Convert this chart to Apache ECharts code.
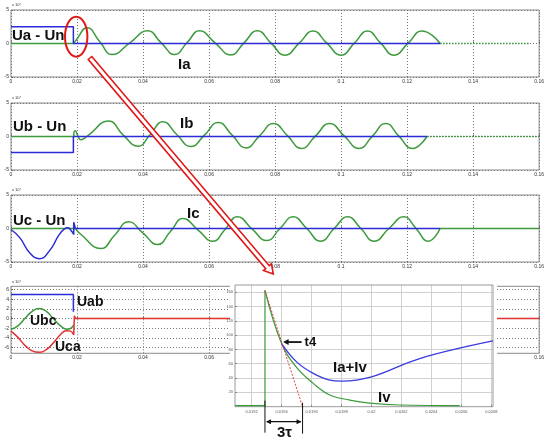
<!DOCTYPE html>
<html><head><meta charset="utf-8">
<script src="https://cdn.jsdelivr.net/npm/echarts@6/dist/echarts.min.js"></script>
<style>html,body{margin:0;padding:0;background:#fff}#c{width:547px;height:441px}</style>
</head><body><div id="c"></div>
<script>
// ---- tick labels ----
const timeTicks = [0, 0.02, 0.04, 0.06, 0.08, 0.1, 0.12, 0.14, 0.16];
const phaseTicks = [-5, 0, 5];
const lineTicks = [-6, -4, -2, 0, 2, 4, 6];
const zoomTimeTicks = [0.0192, 0.0194, 0.0196, 0.0198, 0.02, 0.0202, 0.0204, 0.0206, 0.0208];
const zoomCurrentTicks = [20, 40, 60, 80, 100, 120, 140, 160];

// ---- panel 1 : Ua - Un / Ia (x 10^4) ----
const uaUn = [[0, 2.5], [0.0189, 2.5], [0.0189, 0], [0.130, 0]];
const iaFlat = [[0, 0], [0.0190, 0]];
const iaWave = [[0.0190, 0], [0.0197, 0.5], [0.0231, 2.35], [0.0268, 0.35], [0.0306, -1.65], [0.0360, 0.1],
  [0.0414, 1.9], [0.0455, 0.1], [0.0496, -1.65], [0.0533, 0.1], [0.0571, 1.9], [0.0618, 0.1], [0.0666, -1.7],
  [0.0706, 0.1], [0.0746, 1.9], [0.0788, 0.05], [0.0830, -1.75], [0.0873, 0.05], [0.0915, 1.85], [0.0957, 0.05],
  [0.1000, -1.75], [0.1040, 0.05], [0.1080, 1.85], [0.1120, 0.05], [0.1160, -1.75], [0.1203, 0.05],
  [0.1245, 1.85], [0.1275, 1.25], [0.1300, 0]];
const iaTail = [[0.130, 0], [0.157, 0]];

// ---- panel 2 : Ub - Un / Ib ----
const ubUn = [[0, -2.4], [0.0189, -2.4], [0.0189, 0], [0.126, 0]];
const ibFlat = [[0, 0], [0.0190, 0]];
const ibWave = [[0.0190, 0], [0.0194, 0.85], [0.0212, -0.5], [0.0232, 0.1], [0.0296, 2.3], [0.0340, 0.2],
  [0.0385, -1.45], [0.0422, 0.3], [0.0460, 2.2], [0.0502, 0.3], [0.0545, -1.5], [0.0586, 0.2], [0.0628, 2.1],
  [0.0670, 0.2], [0.0712, -1.7], [0.0753, 0.1], [0.0795, 1.95], [0.0838, 0.1], [0.0880, -1.8], [0.0922, 0.05],
  [0.0965, 1.95], [0.1010, 0.05], [0.1054, -1.8], [0.1095, 0.05], [0.1135, 1.95], [0.1175, 0.05],
  [0.1216, -1.8], [0.1260, 0]];
const ibTail = [[0.126, 0], [0.16, 0]];

// ---- panel 3 : Uc - Un / Ic ----
const ucWave = [[0, -0.15], [0.0027, -1.4], [0.0057, -3.65], [0.0086, -4.5], [0.0117, -3.3], [0.0145, -1.0],
  [0.0162, -0.05], [0.0172, 0.1], [0.0185, -0.5], [0.0190, -0.9]];
const ucStep = [[0.0190, -0.9], [0.0190, 0.95], [0.0195, 0], [0.130, 0]];
const icFlat = [[0, 0], [0.0195, 0]];
const icWave = [[0.0195, 0], [0.0212, -0.9], [0.0272, -3.0], [0.0314, -1.0], [0.0356, 1.0], [0.0400, -0.7],
  [0.0444, -2.4], [0.0483, -0.45], [0.0521, 1.5], [0.0566, -0.2], [0.0612, -1.9], [0.0649, -0.1], [0.0686, 1.75],
  [0.0730, -0.05], [0.0775, -1.8], [0.0815, 0], [0.0855, 1.75], [0.0896, 0], [0.0938, -1.9], [0.0979, 0],
  [0.1020, 1.75], [0.1060, 0], [0.1100, -1.9], [0.1145, 0], [0.1190, 1.75], [0.1227, 0], [0.1264, -1.9],
  [0.1300, 0]];
const icTail = [[0.130, 0], [0.16, 0]];

// ---- panel 4 : line voltages ----
const uab = [[0, 5.0], [0.0189, 5.0], [0.0189, 1.4]];
const ubc = [[0, -2.2], [0.0021, -1.5], [0.0042, 0], [0.0064, 1.5], [0.0085, 2.1], [0.0107, 1.5], [0.0128, 0],
  [0.0150, -1.5], [0.0170, -2.2], [0.0183, -1.9], [0.0190, -1.3]];
const ucaWave = [[0, -2.6], [0.0021, -3.9], [0.0043, -5.6], [0.0064, -6.7], [0.0086, -7.0], [0.0108, -6.4],
  [0.0130, -4.9], [0.0150, -3.3], [0.0168, -2.5], [0.0180, -2.6], [0.0190, -3.4]];
const ucaTail = [[0.0190, -3.4], [0.0192, 0.6], [0.0195, 0], [0.16, 0]];

// ---- inset : Ia+Iv and Iv ----
const ivBase = [[0.019089, 1.4], [0.019289, 1.4], [0.019289, 162.3]];
const ivDecay = [[0.019289, 162.3], [0.0194, 88.2], [0.0195, 54.8], [0.019611, 32.6], [0.019722, 16.3],
  [0.019855, 9.3], [0.019989, 5.1], [0.020189, 2.4], [0.020589, 1.4]];
const iaIv = [[0.0194, 88.2], [0.0195, 62.6], [0.019611, 46.5], [0.019722, 37.1], [0.0198, 35.8],
  [0.0200, 41.7], [0.020322, 67.3], [0.020811, 91.8]];
const tangent = [[0.019289, 162.3], [0.01954, 0]];
const t4Point = [0.0194, 88.2];

const BLUE = '#2a2ad8', GREEN = '#3c9a3c', RED = '#e23030';
const FONT = 'Liberation Sans';
const fmtT = v => v === 0 ? '0' : String(Math.round(v * 100) / 100);

function mainX(gi) {
  return {
    type: 'value', gridIndex: gi, min: 0, max: 0.16, interval: 0.02,
    axisLine: { show: false },
    axisTick: { show: true, inside: true, length: 2, lineStyle: { color: '#666' } },
    splitLine: { show: true, lineStyle: { color: '#777', type: [1, 2], width: 1 } },
    axisLabel: { fontSize: 5, color: '#333', margin: 2, fontFamily: FONT, formatter: fmtT,
      customValues: timeTicks }
  };
}
function mainY(gi, min, max, ticks) {
  return {
    type: 'value', gridIndex: gi, min: min, max: max,
    axisLine: { show: false },
    axisTick: { show: true, inside: true, length: 2, customValues: ticks, lineStyle: { color: '#666' } },
    splitLine: { show: true, lineStyle: { color: '#777', type: [1, 2], width: 1 } },
    axisLabel: { fontSize: 5, color: '#333', margin: 2, fontFamily: FONT, customValues: ticks }
  };
}
function line(data, i, color, extra) {
  return Object.assign({
    type: 'line', xAxisIndex: i, yAxisIndex: i, data: data, symbol: 'none', showSymbol: false,
    lineStyle: { color: color, width: 1.5 }, itemStyle: { color: color }, animation: false, silent: true
  }, extra || {});
}

const gridBase = { left: 11, right: 2, show: true, borderColor: '#8a8a8a', borderWidth: 1, backgroundColor: '#fff' };
const option = {
  animation: false,
  backgroundColor: '#fff',
  grid: [
    Object.assign({}, gridBase, { top: 10, height: 67 }),
    Object.assign({}, gridBase, { top: 103, height: 67 }),
    Object.assign({}, gridBase, { top: 195, height: 67 }),
    Object.assign({}, gridBase, { top: 286.3, height: 67 }),
    { left: 235, right: 54, top: 285, height: 121.7, show: false, z: 50 }
  ],
  xAxis: [mainX(0), mainX(1), mainX(2), mainX(3), {
    type: 'value', gridIndex: 4, min: 0.019089, max: 0.020811, z: 51,
    axisLine: { show: false },
    axisTick: { show: true, inside: true, length: 2, customValues: zoomTimeTicks, lineStyle: { color: '#888' } },
    splitLine: { show: true, lineStyle: { color: '#d0d0d0', width: 1 } },
    axisLabel: { fontSize: 4, color: '#555', margin: 3, fontFamily: FONT, customValues: zoomTimeTicks,
      formatter: v => String(Math.round(v * 1e4) / 1e4) }
  }],
  yAxis: [mainY(0, -5, 5, phaseTicks), mainY(1, -5, 5, phaseTicks), mainY(2, -5, 5, phaseTicks),
    mainY(3, -7.2, 6.7, lineTicks), {
      type: 'value', gridIndex: 4, min: 0, max: 170, z: 51,
      axisLine: { show: false },
      axisTick: { show: true, inside: true, length: 2, customValues: zoomCurrentTicks, lineStyle: { color: '#888' } },
      splitLine: { show: true, lineStyle: { color: '#d0d0d0', width: 1 } },
      axisLabel: { fontSize: 4, color: '#555', margin: 2, fontFamily: FONT, customValues: zoomCurrentTicks }
    }],
  series: [
    line(iaFlat, 0, GREEN), line(iaWave, 0, GREEN, { smooth: 0.5 }),
    line(iaTail, 0, GREEN, { lineStyle: { color: GREEN, width: 1.3, type: [1.5, 1.5] } }),
    line(uaUn, 0, BLUE),
    line(ibFlat, 1, GREEN), line(ibWave, 1, GREEN, { smooth: 0.5 }),
    line(ibTail, 1, GREEN, { lineStyle: { color: GREEN, width: 1.3, type: [1.5, 1.5] } }),
    line(ubUn, 1, BLUE),
    line(icFlat, 2, GREEN), line(icWave, 2, GREEN, { smooth: 0.5 }), line(icTail, 2, GREEN),
    line(ucWave, 2, BLUE, { smooth: 0.5 }), line(ucStep, 2, BLUE),
    line(uab, 3, BLUE), line(ubc, 3, GREEN, { smooth: 0.5 }),
    line(ucaWave, 3, RED, { smooth: 0.5 }), line(ucaTail, 3, RED),
    line(ivBase, 4, GREEN, { z: 52, lineStyle: { color: GREEN, width: 1.2 } }),
    line(ivDecay, 4, GREEN, { z: 52, smooth: 0.4, lineStyle: { color: GREEN, width: 1.2 } }),
    line(iaIv, 4, '#3a3ae0', { z: 53, smooth: 0.4, lineStyle: { color: '#3a3ae0', width: 1.3 } }),
    line(tangent, 4, '#e04040', { z: 53, lineStyle: { color: '#e04040', width: 1, type: [2, 1.5] } })
  ]
};

const chart = echarts.init(document.getElementById('c'), null, { renderer: 'canvas' });
chart.setOption(option);

// ---- annotations ----
const P = (d) => chart.convertToPixel({ gridIndex: 4 }, d);
const tl = P([0.019089, 170]), br = P([0.020811, 0]);
const t4 = P(t4Point);
const a3 = P([tangent[0][0], 0]), b3 = P([tangent[1][0], 0]);

function label(text, x, y, size) {
  return { type: 'text', z: 80, x: x, y: y,
    style: { text: text, font: 'bold ' + (size || 15) + 'px "' + FONT + '"', fill: '#111', verticalAlign: 'middle', align: 'left' } };
}
function small(text, x, y) {
  return { type: 'text', z: 80, x: x, y: y, style: { text: text, font: '4px "' + FONT + '"', fill: '#333', verticalAlign: 'middle' } };
}

// big hollow red arrow from the ellipse to the inset
const S = [90, 58], T = [273.3, 274];
const L = Math.hypot(T[0] - S[0], T[1] - S[1]);
const u = [(T[0] - S[0]) / L, (T[1] - S[1]) / L], p = [u[1], -u[0]];
const B = [T[0] - 9 * u[0], T[1] - 9 * u[1]];
const off = (pt, k) => [pt[0] + k * p[0], pt[1] + k * p[1]];
const arrowPts = [off(S, 2.3), off(B, 2.3), off(B, 5.2), T, off(B, -5.2), off(B, -2.3), off(S, -2.3)];

const yArr = a3[1] + 15;
const graphics = [
  { type: 'rect', z: 50, shape: { x: 230, y: 282, width: 267, height: 136 }, style: { fill: '#fff' } },
  { type: 'rect', z: 51, shape: { x: tl[0], y: tl[1], width: br[0] - tl[0], height: br[1] - tl[1] },
    style: { fill: 'none', stroke: '#9a9a9a', lineWidth: 1 } },
  small('x 10\u2074', 12, 5), small('x 10\u2074', 12, 98), small('x 10\u2074', 12, 190), small('x 10\u2074', 12, 282),
  label('Ua - Un', 12, 36), label('Ia', 178, 65),
  label('Ub - Un', 13, 126.5), label('Ib', 180, 124),
  label('Uc - Un', 13, 221), label('Ic', 187, 214),
  label('Uab', 77, 302.5, 14), label('Ubc', 30, 321.5, 14), label('Uca', 55, 347.5, 14),
  label('t4', t4[0] + 23, t4[1] - 1.5, 13),
  label('Ia+Iv', 333, 367.5, 15), label('Iv', 378, 397.5, 15),
  label('3\u03c4', 277, 433, 15),
  // t4 arrow
  { type: 'line', z: 80, shape: { x1: t4[0] + 20, y1: t4[1] - 1.5, x2: t4[0] + 5, y2: t4[1] - 1.5 }, style: { stroke: '#111', lineWidth: 1.8 } },
  { type: 'polygon', z: 80, shape: { points: [[t4[0] + 1.5, t4[1] - 1.5], [t4[0] + 7, t4[1] - 4.5], [t4[0] + 7, t4[1] + 1.5]] }, style: { fill: '#111' } },
  // 3 tau marks
  { type: 'line', z: 80, shape: { x1: a3[0], y1: a3[1] - 6, x2: a3[0], y2: a3[1] + 26 }, style: { stroke: '#111', lineWidth: 1 } },
  { type: 'line', z: 80, shape: { x1: b3[0], y1: b3[1] - 4, x2: b3[0], y2: b3[1] + 27 }, style: { stroke: '#111', lineWidth: 1 } },
  { type: 'line', z: 80, shape: { x1: a3[0] + 2, y1: yArr, x2: b3[0] - 2, y2: yArr }, style: { stroke: '#111', lineWidth: 1.3 } },
  { type: 'polygon', z: 80, shape: { points: [[a3[0] + 1, yArr], [a3[0] + 6, yArr - 2.5], [a3[0] + 6, yArr + 2.5]] }, style: { fill: '#111' } },
  { type: 'polygon', z: 80, shape: { points: [[b3[0] - 1, yArr], [b3[0] - 6, yArr - 2.5], [b3[0] - 6, yArr + 2.5]] }, style: { fill: '#111' } },
  // red ellipse + hollow arrow
  { type: 'ellipse', z: 90, shape: { cx: 76.2, cy: 36.7, rx: 11.2, ry: 20 }, style: { fill: 'none', stroke: '#e01818', lineWidth: 2 } },
  { type: 'polygon', z: 90, shape: { points: arrowPts }, style: { fill: '#fff', stroke: '#e01818', lineWidth: 1.6 } }
];
chart.setOption({ graphic: { elements: graphics } });
</script>
</body></html>
